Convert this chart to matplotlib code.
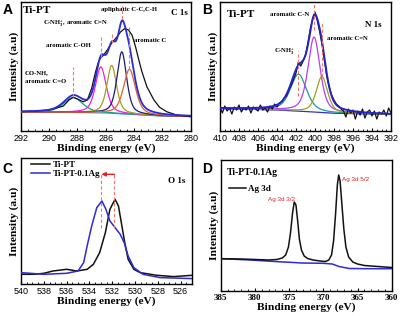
import numpy as np
import matplotlib
matplotlib.use('Agg')
import matplotlib.pyplot as plt
from matplotlib.ticker import MultipleLocator

plt.rcParams['font.family'] = ['Liberation Serif', 'DejaVu Serif']
plt.rcParams['font.weight'] = 'bold'
plt.rcParams['mathtext.fontset'] = 'custom'
plt.rcParams['mathtext.rm'] = 'Liberation Serif:bold'
plt.rcParams['mathtext.it'] = 'Liberation Serif:bold:italic'
plt.rcParams['mathtext.bf'] = 'Liberation Serif:bold'

# ---------------- Panel A: C 1s (Ti-PT) ----------------
a_ticks = [292, 290, 288, 286, 284, 282, 280]
a_raw_e = [292, 291, 290, 289, 288.6, 288.3, 288, 287.6, 287.3, 287, 286.75, 286.55,
           286.4, 286.15, 285.9, 285.6, 285.2, 284.95, 284.65, 284.4, 284.15, 283.9,
           283.7, 283.45, 283.1, 282.6, 282.2, 281.7, 281, 280]
a_raw_i = [19.3, 20, 21, 25, 31, 33.7, 32, 29.3, 31, 42.7, 57.7, 67.7,
           72.7, 76, 81, 87.7, 94.3, 99.3, 102.7, 101, 96, 84.3,
           72.7, 59.3, 44.3, 31, 23.7, 19.3, 16, 14.3]
a_bg_e = [292, 288, 286, 284, 282, 280]
a_bg_i = [19, 18.5, 18, 16.5, 15, 14.5]
# fitted components: centre (eV), height above background, FWHM (eV)
a_centers = [288.3, 286.35, 285.58, 284.87, 284.33]
a_heights = [15, 46, 48, 62, 45]
a_fwhm = [1.6, 0.9, 0.8, 0.8, 1.0]
a_colors = ['#1a9c8c', '#ee22dd', '#a3a01c', '#1c1c78', '#e0603a']
a_marks = [(288.3, 34, 64), (286.35, 74, 94), (285.58, 88, 99), (284.87, 112, 125), (284.33, 62, 104)]

# ---------------- Panel B: N 1s (Ti-PT) ----------------
b_ticks = [410, 408, 406, 404, 402, 400, 398, 396, 394, 392]
b_raw_e = [410 - 0.25 * k for k in range(73)]
b_raw_i = [24, 18, 25, 20, 23, 17, 24, 21,
           26, 19, 23, 21, 25, 18, 24, 22,
           20, 26, 21, 23, 19, 25, 22, 27,
           24, 28, 29, 33, 35, 41, 46, 52,
           58, 69, 65, 70, 76, 88, 102, 112,
           119, 110, 99, 86, 70, 54, 44, 36,
           31, 27, 25, 22, 20, 14, 22, 18,
           21, 12, 20, 16, 22, 13, 19, 21,
           15, 20, 12, 19, 17, 21, 15, 23,
           18]
b_bg_e = [410, 404, 401, 398, 392]
b_bg_i = [22.5, 21, 19.5, 17.8, 16.5]
b_centers = [401.74, 400.1, 399.27]
b_heights = [37, 75, 36]
b_fwhm = [2.0, 1.5, 1.4]
b_colors = ['#1f9e8a', '#b63ff0', '#a0a020']
b_marks = [(401.74, 35, 80), (400.1, 101, 128), (399.27, 54, 109)]

# ---------------- Panel C: O 1s ----------------
c_ticks = [540, 538, 536, 534, 532, 530, 528, 526]
c_pt_e = [540, 538.9, 538, 537.2, 536, 535.1, 534.2, 533.65, 533.1, 532.6, 532.2,
          531.75, 531.45, 531.2, 530.9, 530.6, 530.1, 529.55, 528.1, 526.6, 525]
c_pt_i = [10, 10, 11, 13.3, 15, 13.3, 15, 20, 31.7, 51.7, 75,
          85, 78.3, 61.7, 41.7, 25, 15, 11.7, 9, 7.7, 9]
c_ag_e = [540, 538, 536, 535, 534.5, 534.2, 533.8, 533.35, 532.9, 532.55, 532.2,
          531.75, 531.3, 530.95, 530.6, 530.1, 529.3, 527.8, 525]
c_ag_i = [11.7, 10, 11, 13.3, 21.7, 38.3, 58.3, 76.7, 83.3, 75, 63.3,
          56.7, 50, 41.7, 28.3, 16.7, 10, 6.7, 5.7]
c_shift = [531.8, 532.95]

# ---------------- Panel D: Ag 3d ----------------
d_ticks = [385, 380, 375, 370, 365, 360]
d_ag_e = [385, 382, 380, 378, 376.8, 376, 375.5, 375.1, 374.8, 374.5, 374.25, 374.0,
          373.75, 373.5, 373.2, 372.8, 372.3, 371.5, 370.5, 369.7, 369.2, 368.8,
          368.5, 368.2, 367.95, 367.75, 367.55, 367.3, 367.0, 366.7, 366.3, 365.7,
          365, 364, 362, 360]
d_ag_i = [32.3, 32, 31.5, 31, 31.5, 33, 36, 44, 58, 78, 89, 86,
          70, 52, 41, 35, 32.5, 31, 30, 29.5, 31, 36,
          50, 78, 106, 116, 110, 88, 62, 44, 34, 29,
          27, 25.5, 24.5, 23.5]
d_base_e = [385, 380.7, 378.3, 375.8, 374.6, 373.2, 370, 368.7, 367.7, 366.2, 363.7, 360]
d_base_i = [32.3, 31, 30, 29, 28.6, 28, 27.7, 27, 24.5, 22.5, 22.3, 22.3]

SALMON = '#f07a68'


def pv(e, c, h, w, eta=0.5):
    """pseudo-Voigt line shape for a fitted component"""
    x = (e - c) / w
    return h * (eta / (1 + 4 * x ** 2) + (1 - eta) * np.exp(-4 * np.log(2) * x ** 2))


def style(ax, ticks, xlim, ylim, minor, tick_family, tick_weight):
    ax.set_xlim(*xlim)
    ax.set_ylim(*ylim)
    ax.set_xticks(ticks)
    ax.set_xticklabels([str(t) for t in ticks], fontfamily=tick_family,
                       fontweight=tick_weight, fontsize=6.5)
    ax.xaxis.set_minor_locator(MultipleLocator(minor))
    ax.set_yticks([])
    ax.tick_params(axis='x', which='both', direction='in', top=False)
    ax.tick_params(axis='x', which='major', length=2.5, width=0.8, pad=2)
    ax.tick_params(axis='x', which='minor', length=1.5, width=0.6)
    for s in ax.spines.values():
        s.set_linewidth(1.0)
    ax.set_xlabel('Binding energy (eV)', fontsize=8.2, fontweight='bold', labelpad=0.5)
    ax.set_ylabel('Intensity (a.u)', fontsize=8.2, fontweight='bold', labelpad=1.5)


fig = plt.figure(figsize=(4, 3.16), dpi=100)
axA = fig.add_axes([0.052, 0.5854, 0.425, 0.408])
axB = fig.add_axes([0.55, 0.5854, 0.4275, 0.408])
axC = fig.add_axes([0.0525, 0.1003, 0.4275, 0.3997])
axD = fig.add_axes([0.5518, 0.0791, 0.4275, 0.4146])

# ---- A ----
ea = np.linspace(292, 280, 800)
bga = np.interp(ea, a_bg_e[::-1], a_bg_i[::-1])
env = bga.copy()
for c, h, w, col in zip(a_centers, a_heights, a_fwhm, a_colors):
    comp = pv(ea, c, h, w)
    env += comp
    axA.plot(ea, comp + bga, color=col, lw=0.9, zorder=3)
axA.plot(a_bg_e, a_bg_i, color='#30b0e0', lw=0.9, zorder=2)
axA.plot(a_raw_e, a_raw_i, color='#111111', lw=0.9, zorder=4)
axA.plot(ea, env, color='#2b2bd8', lw=1.3, zorder=5)
for c, y0, y1 in a_marks:
    axA.plot([c, c], [y0, y1], color=SALMON, lw=0.8, ls=(0, (3, 2)), zorder=6)
style(axA, a_ticks, (292, 280), (0, 129), 0.5, 'Liberation Sans', 'normal')
axA.text(0.014, 0.972, 'Ti-PT', transform=axA.transAxes, fontsize=8, va='top', ha='left')
axA.text(0.985, 0.95, 'C 1s', transform=axA.transAxes, fontsize=6.5, va='top', ha='right')
ann = dict(transform=axA.transAxes, fontsize=4.8, va='center')
axA.text(0.634, 0.946, 'apliphatic C-C,C-H', ha='center', **ann)
axA.text(0.322, 0.829, r'C-NH$_\mathrm{3}^\mathrm{+}$, aromatic C=N', ha='center', **ann)
axA.text(0.281, 0.663, 'aromatic C-OH', ha='center', **ann)
axA.text(0.761, 0.705, 'aromatic C', ha='center', **ann)
axA.text(0.025, 0.457, 'CO-NH,', ha='left', **ann)
axA.text(0.025, 0.384, 'aromatic C=O', ha='left', **ann)

# ---- B ----
eb = np.linspace(410, 392, 800)
bgb = np.interp(eb, b_bg_e[::-1], b_bg_i[::-1])
envb = bgb.copy()
for c, h, w, col in zip(b_centers, b_heights, b_fwhm, b_colors):
    comp = pv(eb, c, h, w)
    envb += comp
    axB.plot(eb, comp + bgb, color=col, lw=0.9, zorder=3)
axB.plot(b_bg_e, b_bg_i, color='#3030d0', lw=0.9, zorder=2)
axB.plot(b_raw_e, b_raw_i, color='#111111', lw=0.9, zorder=4)
axB.plot(eb, envb, color='#2424c8', lw=1.4, zorder=5)
for c, y0, y1 in b_marks:
    axB.plot([c, c], [y0, y1], color=SALMON, lw=0.8, ls=(0, (3, 2)), zorder=6)
style(axB, b_ticks, (410, 392), (0, 129), 0.5, 'Liberation Sans', 'normal')
axB.text(0.039, 0.94, 'Ti-PT', transform=axB.transAxes, fontsize=8, va='top', ha='left')
axB.text(0.947, 0.82, 'N 1s', transform=axB.transAxes, fontsize=6.5, va='center', ha='right')
annb = dict(transform=axB.transAxes, fontsize=4.8, va='center', ha='center')
axB.text(0.41, 0.9, 'aromatic C-N', **annb)
axB.text(0.747, 0.718, 'aromatic C=N', **annb)
axB.text(0.376, 0.615, r'C-NH$_\mathrm{3}^\mathrm{+}$', **annb)

# ---- C ----
axC.plot(c_pt_e, c_pt_i, color='#111111', lw=1.1, label='Ti-PT', zorder=3)
axC.plot(c_ag_e, c_ag_i, color='#2b2bd8', lw=1.1, label='Ti-PT-0.1Ag', zorder=4)
for c in c_shift:
    axC.plot([c, c], [56, 110], color=SALMON, lw=0.8, ls=(0, (3, 2)), zorder=5)
axC.annotate('', xy=(c_shift[1], 110), xytext=(c_shift[0], 110),
             arrowprops=dict(arrowstyle='-|>', color='#e82020', lw=1.0,
                             mutation_scale=6, shrinkA=0, shrinkB=0), zorder=6)
style(axC, c_ticks, (540, 525), (0, 126.3), 0.5, 'Liberation Sans', 'normal')
axC.legend(loc='upper left', bbox_to_anchor=(0.035, 1.01), frameon=False,
           prop={'family': 'Liberation Serif', 'weight': 'bold', 'size': 6.5},
           handlelength=2.2, handletextpad=0.3, labelspacing=0.15, borderaxespad=0)
axC.text(0.959, 0.818, 'O 1s', transform=axC.transAxes, fontsize=6.5, va='center', ha='right')

# ---- D ----
axD.plot(d_base_e, d_base_i, color='#2b2bd8', lw=1.1, zorder=3)
axD.plot(d_ag_e, d_ag_i, color='#111111', lw=1.1, label='Ag 3d', zorder=4)
style(axD, d_ticks, (385, 360), (0, 131), 1, 'Liberation Serif', 'bold')
axD.text(0.035, 0.903, 'Ti-PT-0.1Ag', transform=axD.transAxes, fontsize=7, va='center', ha='left')
axD.legend(loc='upper left', bbox_to_anchor=(0.025, 0.84), frameon=False,
           prop={'family': 'Liberation Serif', 'weight': 'bold', 'size': 6.5},
           handlelength=1.9, handletextpad=0.3, borderaxespad=0)
red = dict(transform=axD.transAxes, fontsize=4.6, va='center', ha='center',
           color='#e02020', fontfamily='Liberation Sans', fontweight='normal')
axD.text(0.357, 0.70, 'Ag 3d 3/2', **red)
axD.text(0.788, 0.85, 'Ag 3d 5/2', **red)

# panel letters
for x, y, s in [(0.006, 0.992, 'A'), (0.506, 0.992, 'B'), (0.006, 0.488, 'C'), (0.506, 0.486, 'D')]:
    fig.text(x, y, s, fontsize=10, fontweight='bold', fontfamily='Liberation Sans',
             va='top', ha='left')

fig.savefig('out.png', dpi=100, facecolor='white')
